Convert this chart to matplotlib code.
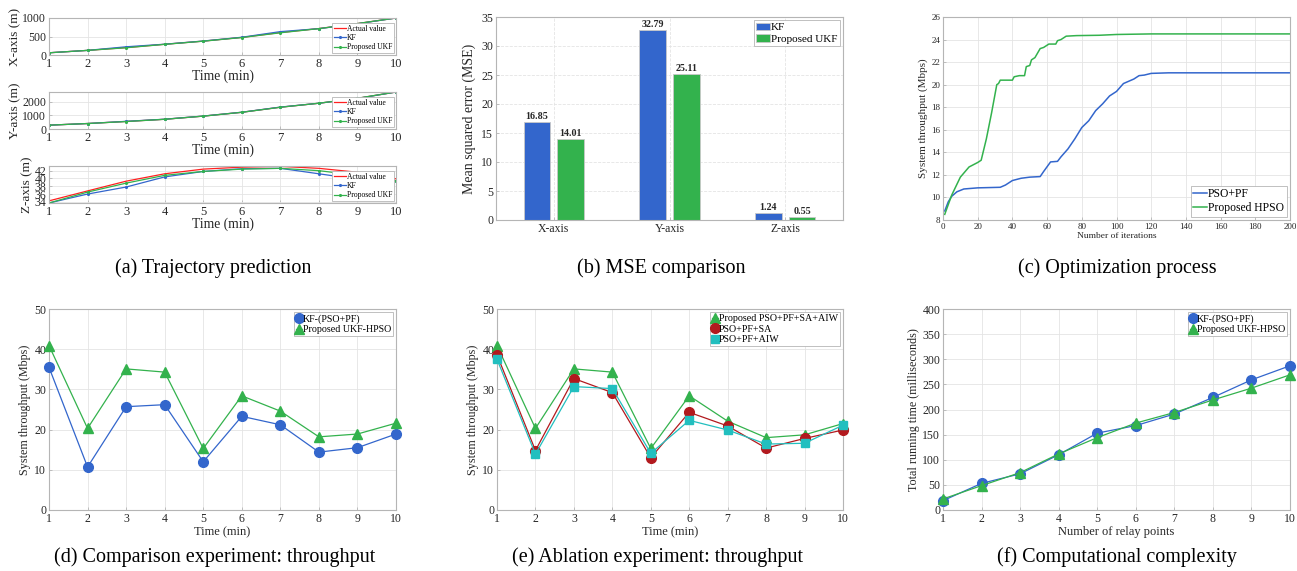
import matplotlib
matplotlib.use('Agg')
import matplotlib.pyplot as plt
import numpy as np

plt.rcParams['font.family'] = ['Liberation Serif', 'DejaVu Serif']
plt.rcParams['mathtext.fontset'] = 'stix'

W, H = 1297, 571

# ---------------- data ----------------
t = [1, 2, 3, 4, 5, 6, 7, 8, 9, 10]

# (a) trajectory prediction
x_actual = [60, 125, 200, 290, 375, 475, 607, 715, 850, 1000]
x_kf = [60, 125, 222, 292, 378, 480, 632, 712, 845, 1000]
x_ukf = [60, 125, 195, 288, 373, 472, 600, 713, 850, 1000]
y_actual = [280, 400, 550, 710, 940, 1220, 1590, 1880, 2240, 2700]
y_kf = [280, 400, 560, 715, 945, 1225, 1600, 1880, 2230, 2700]
y_ukf = [280, 400, 545, 708, 938, 1218, 1585, 1882, 2245, 2700]
z_actual = [34.25, 36.8, 39.3, 41.2, 42.4, 42.9, 43.1, 42.6, 41.6, 39.9]
z_kf = [33.7, 36.0, 37.8, 40.4, 41.8, 42.5, 42.6, 41.2, 39.8, 39.4]
z_ukf = [33.7, 36.5, 38.8, 40.8, 41.8, 42.4, 42.6, 42.0, 40.8, 39.4]

# (b) MSE comparison
mse_cats = ['X-axis', 'Y-axis', 'Z-axis']
mse_kf = [16.85, 32.79, 1.24]
mse_ukf = [14.01, 25.11, 0.55]

# (c) optimization process
it_hpso = [1, 5, 10, 15, 20, 22, 25, 28, 31, 32, 33, 40, 41, 44, 47, 48, 50, 51, 53,
           56, 58, 61, 65, 66, 68, 71, 77, 90, 100, 120, 200]
tp_hpso = [8.5, 10.2, 11.8, 12.7, 13.1, 13.3, 15.2, 17.5, 20.0, 20.1, 20.4, 20.4, 20.7,
           20.8, 20.8, 21.6, 21.7, 22.2, 22.4, 23.2, 23.3, 23.6, 23.6, 23.9, 24.0, 24.3,
           24.35, 24.38, 24.45, 24.5, 24.5]
it_pso = [1, 3, 5, 8, 12, 20, 33, 36, 40, 45, 50, 56, 58, 62, 66, 68, 72, 76, 80, 84,
          88, 92, 96, 100, 104, 107, 110, 113, 116, 120, 130, 200]
tp_pso = [8.8, 9.6, 10.1, 10.5, 10.75, 10.85, 10.9, 11.1, 11.5, 11.7, 11.8, 11.85, 12.3,
          13.15, 13.2, 13.6, 14.3, 15.2, 16.2, 16.8, 17.7, 18.3, 19.0, 19.4, 20.1, 20.3,
          20.5, 20.8, 20.85, 21.0, 21.05, 21.05]

# (d) comparison experiment
d_kf = [35.5, 10.7, 25.7, 26.2, 12.0, 23.3, 21.2, 14.4, 15.5, 18.9]
d_ukf = [40.9, 20.3, 35.1, 34.3, 15.3, 28.4, 24.6, 18.2, 18.9, 21.6]

# (e) ablation experiment
e_full = [40.9, 20.3, 35.1, 34.3, 15.3, 28.4, 22.1, 18.0, 18.7, 21.5]
e_sa = [38.6, 14.8, 32.7, 29.2, 13.0, 24.3, 20.9, 15.4, 17.8, 19.9]
e_aiw = [37.5, 13.9, 30.7, 30.2, 14.1, 22.3, 19.9, 16.4, 16.6, 21.1]

# (f) computational complexity
relay = [1, 2, 3, 4, 5, 6, 7, 8, 9, 10]
f_kf = [18.6, 53, 72, 110, 153, 168, 191, 224, 259, 287]
f_ukf = [22, 48.5, 74.4, 111.6, 144, 173, 194, 219, 242.5, 269]

captions = ['(a) Trajectory prediction', '(b) MSE comparison', '(c) Optimization process',
            '(d) Comparison experiment: throughput', '(e) Ablation experiment: throughput',
            '(f) Computational complexity']

# ---------------- style ----------------
BLUE = '#3366cc'
GREEN = '#33b24d'
RED = '#ff2020'
DRED = '#b2191e'
CYAN = '#22bfbf'
SPINE = '#b5b5b5'
TXT = '#262626'

fig = plt.figure(figsize=(W / 100, H / 100), dpi=100)


def px_ax(l, t_, r, b):
    return fig.add_axes([l / W, 1 - b / H, (r - l) / W, (b - t_) / H])


def style(ax, fs, grid_ls='-'):
    for s in ax.spines.values():
        s.set_color(SPINE)
        s.set_linewidth(0.8)
    ax.tick_params(direction='in', length=2.5, width=0.6, colors=SPINE,
                   labelcolor=TXT, labelsize=fs, pad=2)
    ax.grid(True, color='#e4e4e4', linewidth=0.6, linestyle=grid_ls)
    ax.set_axisbelow(True)


def legend(ax, fs, loc, hl=1.0):
    lg = ax.legend(loc=loc, fontsize=fs, frameon=True, fancybox=False,
                   framealpha=1, edgecolor=SPINE, handlelength=hl,
                   handletextpad=0.1, borderpad=0.2, labelspacing=0.15,
                   borderaxespad=0.3)
    lg.get_frame().set_linewidth(0.6)
    return lg


# ---- (a) three stacked subplots ----
a_rows = [(18, 55), (92, 129), (166, 203)]
a_data = [(x_actual, x_kf, x_ukf, 'X-axis (m)', (0, 1000), [0, 500, 1000]),
          (y_actual, y_kf, y_ukf, 'Y-axis (m)', (0, 2700), [0, 1000, 2000]),
          (z_actual, z_kf, z_ukf, 'Z-axis (m)', (33.7, 43.2), [34, 36, 38, 40, 42])]
for (top, bot), (act, kf, ukf, lab, yl, yt) in zip(a_rows, a_data):
    ax = px_ax(49, top, 396, bot)
    style(ax, 9)
    ax.tick_params(axis='y', labelsize=8.5)
    ax.plot(t, act, color=RED, lw=0.9, label='Actual value')
    ax.plot(t, kf, color=BLUE, lw=0.9, marker='.', ms=2.5, label='KF')
    ax.plot(t, ukf, color=GREEN, lw=0.9, marker='.', ms=2.5, label='Proposed UKF')
    ax.set_xlim(1, 10)
    ax.set_ylim(*yl)
    ax.set_xticks(t)
    ax.set_yticks(yt)
    ax.set_ylabel(lab, fontsize=9.5, color=TXT, labelpad=1)
    ax.set_xlabel('Time (min)', fontsize=9.8, color=TXT, labelpad=0)
    legend(ax, 5.5, 'lower right', hl=1.6)

# ---- (b) bars ----
ax = px_ax(496, 17, 843, 220)
style(ax, 8.5, grid_ls='--')
pos = np.arange(1, len(mse_cats) + 1)
bw = 0.23
b1 = ax.bar(pos - 0.145, mse_kf, bw, color=BLUE, edgecolor='#c8c8c8', lw=0.6, label='KF')
b2 = ax.bar(pos + 0.145, mse_ukf, bw, color=GREEN, edgecolor='#c8c8c8', lw=0.6,
            label='Proposed UKF')
for bars in (b1, b2):
    for rect in bars:
        ax.text(rect.get_x() + rect.get_width() / 2, rect.get_height() + 0.15,
                '%.2f' % rect.get_height(), ha='center', va='bottom', fontsize=7.2,
                fontweight='bold', color=TXT)
ax.set_xlim(0.5, 3.5)
ax.set_ylim(0, 35)
ax.set_xticks(pos)
ax.set_xticklabels(mse_cats)
ax.set_ylabel('Mean squared error (MSE)', fontsize=10, color=TXT)
legend(ax, 8, 'upper right', hl=1.2)

# ---- (c) optimization process ----
ax = px_ax(943, 17, 1290, 220)
style(ax, 6.5)
ax.plot(it_pso, tp_pso, color=BLUE, lw=1.1, label='PSO+PF')
ax.plot(it_hpso, tp_hpso, color=GREEN, lw=1.1, label='Proposed HPSO')
ax.set_xlim(0, 200)
ax.set_ylim(8, 26)
ax.set_xticks(np.arange(0, 201, 20))
ax.set_yticks(np.arange(8, 27, 2))
ax.set_ylabel('System throughput (Mbps)', fontsize=8, color=TXT, labelpad=2)
ax.set_xlabel('Number of iterations', fontsize=6.8, color=TXT, labelpad=1)
legend(ax, 8.4, 'lower right', hl=1.2)

# ---- row 2 line charts ----
def line_panel(ax, xs, series, xlabel, ylabel, ylim, yticks=None):
    style(ax, 8.5)
    for ys, col, mk, ms, lab in series:
        ax.plot(xs, ys, color=col, lw=0.9, marker=mk, ms=ms, label=lab, clip_on=False,
                zorder=3)
    ax.set_xlim(1, 10)
    ax.set_ylim(*ylim)
    ax.set_xticks(xs)
    if yticks is not None:
        ax.set_yticks(yticks)
    ax.set_ylabel(ylabel, fontsize=8.7, color=TXT, labelpad=2)
    ax.set_xlabel(xlabel, fontsize=9, color=TXT, labelpad=1)
    legend(ax, 7.2, 'upper right', hl=0.6)


ax = px_ax(49, 309, 396, 510)
line_panel(ax, t, [(d_kf, BLUE, 'o', 7, 'KF-(PSO+PF)'),
                   (d_ukf, GREEN, '^', 7.5, 'Proposed UKF-HPSO')],
           'Time (min)', 'System throughput (Mbps)', (0, 50))

ax = px_ax(497, 309, 843, 510)
line_panel(ax, t, [(e_full, GREEN, '^', 7.5, 'Proposed PSO+PF+SA+AIW'),
                   (e_sa, DRED, 'o', 7, 'PSO+PF+SA'),
                   (e_aiw, CYAN, 's', 5.5, 'PSO+PF+AIW')],
           'Time (min)', 'System throughput (Mbps)', (0, 50))

ax = px_ax(943, 309, 1290, 510)
line_panel(ax, relay, [(f_kf, BLUE, 'o', 7, 'KF-(PSO+PF)'),
                       (f_ukf, GREEN, '^', 7.5, 'Proposed UKF-HPSO')],
           'Number of relay points', 'Total running time (milliseconds)', (0, 400),
           np.arange(0, 401, 50))

# ---- captions ----
cap_pos = [(213, 268), (661, 268), (1117, 268), (215, 557), (658, 557), (1117, 557)]
for (cx, cy), cap in zip(cap_pos, captions):
    fig.text(cx / W, 1 - cy / H, cap, ha='center', va='center', fontsize=14.5, color='black')

fig.savefig('out.png', dpi=100)
